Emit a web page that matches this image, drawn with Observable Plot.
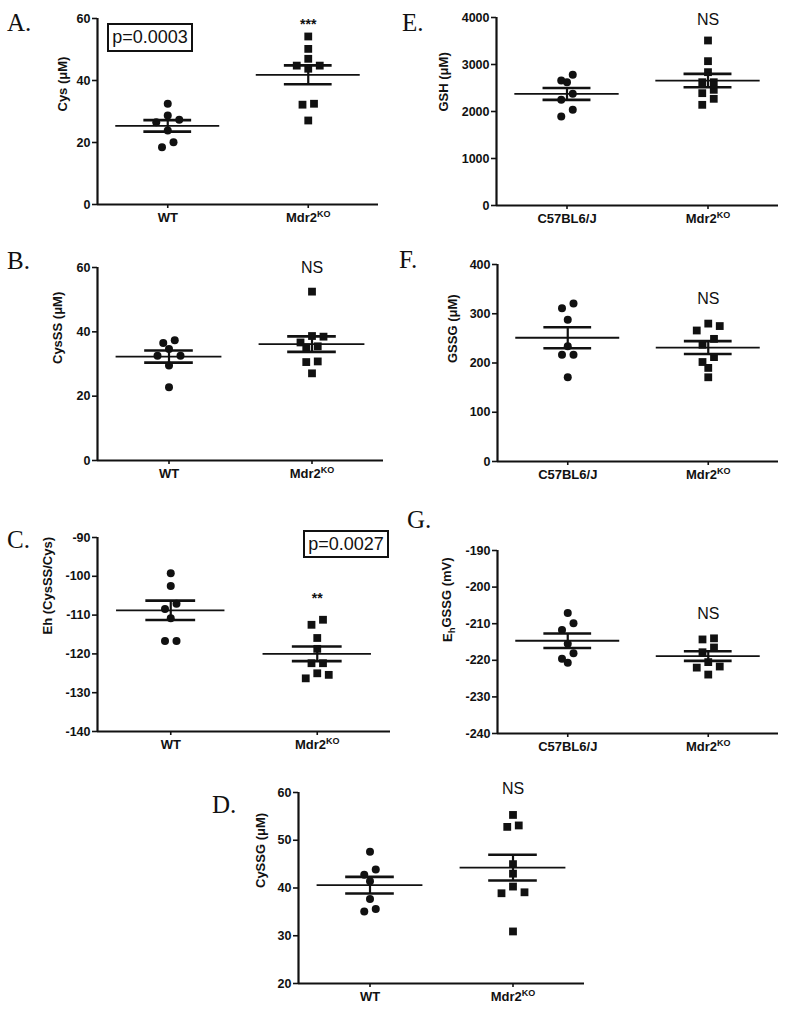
<!DOCTYPE html>
<html><head><meta charset="utf-8">
<script src="https://cdn.jsdelivr.net/npm/d3@7"></script>
<script src="https://cdn.jsdelivr.net/npm/@observablehq/plot@0.6"></script>
<style>
body{margin:0;background:#fff;}
#fig{position:relative;width:800px;height:1012px;background:#fff;overflow:hidden;font-family:"Liberation Sans",Arial,sans-serif;color:#111;}
.lab{position:absolute;font-family:"Liberation Serif","Times New Roman",serif;font-size:25px;line-height:1;color:#111;}
.pbox{position:absolute;border:2px solid #111;font-size:18px;display:flex;align-items:center;justify-content:center;box-sizing:border-box;background:#fff;}
.panel{position:absolute;}
</style></head><body><div id="fig"></div>
<script>
// ---- data ----
const groupsWT = ["WT", "Mdr2KO"];
const groupsC57 = ["C57BL6/J", "Mdr2KO"];

const cysWT = [32.5, 28.7, 27.3, 26.5, 23.9, 20.1, 18.5];
const cysKO = [54.2, 50.2, 47.0, 44.8, 44.8, 43.8, 32.5, 32.2, 27.1];
const cysssWT = [37.4, 36.5, 34.7, 32.6, 32.6, 29.5, 22.8];
const cysssKO = [52.5, 38.7, 38.5, 36.7, 35.5, 35.2, 30.8, 30.6, 27.1];
const ehCysWT = [-99.2, -102.5, -107.1, -108.4, -110.8, -116.7, -116.7];
const ehCysKO = [-111.2, -112.5, -115.9, -118.7, -122.4, -122.4, -125.0, -125.4, -126.3];
const cyssgWT = [47.6, 43.9, 42.8, 41.4, 37.7, 35.6, 35.1];
const cyssgKO = [55.3, 53.1, 52.8, 45.0, 43.0, 40.3, 39.1, 38.9, 30.9];
const gshWT = [2780, 2660, 2623, 2376, 2250, 2035, 1894];
const gshKO = [3511, 3071, 2837, 2623, 2623, 2461, 2390, 2270, 2142];
const gssgWT = [321, 311, 288, 234, 217, 217, 171];
const gssgKO = [280, 275, 266, 249, 237, 212, 202, 190, 171];
const ehGssgWT = [-207.1, -209.9, -211.7, -215.5, -218.1, -219.6, -220.7];
const ehGssgKO = [-214.0, -214.3, -216.5, -217.8, -220.5, -221.7, -222.0, -223.9];

const ticksCys = [0, 20, 40, 60];
const ticksEhCys = [-140, -130, -120, -110, -100, -90];
const ticksCyssg = [20, 30, 40, 50, 60];
const ticksGsh = [0, 1000, 2000, 3000, 4000];
const ticksGssg = [0, 100, 200, 300, 400];
const ticksEhGssg = [-240, -230, -220, -210, -200, -190];

// ---- layout ----
const panels = [
  {letter:"A.", lab:[7,10], groups:groupsWT, wt:cysWT, ko:cysKO, yDomain:[0,60], yTicks:ticksCys, yLabel:"Cys (μM)", frame:[97,378,18,204], svg:[0,0,400,235], labelDx:-35, sig:"***", sigY:57.9, sigSize:14, pbox:{text:"p=0.0003", box:[107,23,86,29]}},
  {letter:"B.", lab:[7,248], groups:groupsWT, wt:cysssWT, ko:cysssKO, yDomain:[0,60], yTicks:ticksCys, yLabel:"CysSS (μM)", frame:[97,383,267,460], svg:[0,235,400,255], labelDx:-40, sig:"NS", sigY:60, sigSize:16},
  {letter:"C.", lab:[7,527], groups:groupsWT, wt:ehCysWT, ko:ehCysKO, yDomain:[-140,-90], yTicks:ticksEhCys, yLabel:"Eh (CysSS/Cys)", frame:[97,390,537,731], svg:[0,490,400,270], labelDx:-50, sig:"**", sigY:-105.6, sigSize:14, pbox:{text:"p=0.0027", box:[303,530,86,28]}},
  {letter:"D.", lab:[212,792], groups:groupsWT, wt:cyssgWT, ko:cyssgKO, yDomain:[20,60], yTicks:ticksCyssg, yLabel:"CySSG (μM)", frame:[298,584,792,983], svg:[160,760,440,252], labelDx:-38, sig:"NS", sigY:60.7, sigSize:16},
  {letter:"E.", lab:[402,10], groups:groupsC57, wt:gshWT, ko:gshKO, yDomain:[0,4000], yTicks:ticksGsh, yLabel:"GSH (μM)", frame:[496,778,17,205], svg:[400,0,400,235], labelDx:-53, sig:"NS", sigY:3957, sigSize:16},
  {letter:"F.", lab:[399,247], groups:groupsC57, wt:gssgWT, ko:gssgKO, yDomain:[0,400], yTicks:ticksGssg, yLabel:"GSSG (μM)", frame:[497,778,264,461], svg:[400,235,400,255], labelDx:-45, sig:"NS", sigY:331, sigSize:16},
  {letter:"G.", lab:[407,507], groups:groupsC57, wt:ehGssgWT, ko:ehGssgKO, yDomain:[-240,-190], yTicks:ticksEhGssg, yLabel:"EhGSSG (mV)", frame:[497,778,550,733], svg:[400,490,400,270], labelDx:-50, sig:"NS", sigY:-207.2, sigSize:16}
];

// GraphPad-like horizontal spreading of points that share a row
function rowSpread(vals, yPx, Dy, S) {
  const offs = new Array(vals.length).fill(0);
  const idx = vals.map((v, i) => i).sort((a, b) => vals[b] - vals[a]);
  const rows = []; let cur = null;
  for (const i of idx) {
    const py = yPx(vals[i]);
    if (cur && py - cur.y0 < Dy) cur.items.push(i);
    else { cur = {y0: py, items: [i]}; rows.push(cur); }
  }
  for (const r of rows) {
    const n = r.items.length, slots = [];
    if (n % 2) { slots.push(0); for (let k = 1; slots.length < n; k++) slots.push(k * S, -k * S); }
    else { for (let k = 0; slots.length < n; k++) slots.push((k + 0.5) * S, -(k + 0.5) * S); }
    r.items.forEach((i, j) => offs[i] = slots[j]);
  }
  return offs;
}

const fig = document.getElementById("fig");
const INK = "#111";

for (const p of panels) {
  const [fx0, fx1, fy0, fy1] = p.frame;
  const [sl, st, sw, sh] = p.svg;
  const fw = fx1 - fx0, fh = fy1 - fy0;
  const pxPerX = fw / 2;
  const yPx = v => (p.yDomain[1] - v) / (p.yDomain[1] - p.yDomain[0]) * fh;
  const pts = [];
  [p.wt, p.ko].forEach((vals, gi) => {
    const offs = rowSpread(vals, yPx, 7, 11.5);
    vals.forEach((v, i) => pts.push({g: gi, v, x: gi + offs[i] / pxPerX}));
  });
  const stats = [p.wt, p.ko].map((vals, gi) => {
    const m = d3.mean(vals), se = d3.deviation(vals) / Math.sqrt(vals.length);
    return {g: gi, m, lo: m - se, hi: m + se};
  });
  const svg = Plot.plot({
    width: sw, height: sh,
    marginLeft: fx0 - sl, marginRight: sl + sw - fx1,
    marginTop: fy0 - st, marginBottom: st + sh - fy1,
    style: {background: "none", color: INK, fontFamily: '"Liberation Sans", Arial, sans-serif', fontWeight: "bold", overflow: "visible"},
    x: {domain: [-0.5, 1.5]},
    y: {domain: p.yDomain},
    marks: [
      Plot.axisY({ticks: p.yTicks, tickFormat: d => String(d), tickSize: 5, tickPadding: 2, fontSize: 12.5, fontWeight: "bold", label: null, strokeWidth: 1.6}),
      Plot.axisX({ticks: [0, 1], tickFormat: i => p.groups[i], tickSize: 4, tickPadding: 4, fontSize: 13, fontWeight: "bold", label: null, strokeWidth: 1.6}),
      Plot.ruleX([-0.5], {stroke: INK, strokeWidth: 2.2}),
      Plot.ruleY([p.yDomain[0]], {stroke: INK, strokeWidth: 2.2}),
      Plot.dot(pts.filter(d => d.g === 0), {x: "x", y: "v", r: 4, symbol: "circle", fill: INK, stroke: "none"}),
      Plot.dot(pts.filter(d => d.g === 1), {x: "x", y: "v", r: 4.4, symbol: "square", fill: INK, stroke: "none"}),
      Plot.ruleY(stats, {x1: d => d.g - 0.37, x2: d => d.g + 0.37, y: "m", stroke: INK, strokeWidth: 1.8}),
      Plot.ruleY(stats, {x1: d => d.g - 0.17, x2: d => d.g + 0.17, y: "lo", stroke: INK, strokeWidth: 2.6}),
      Plot.ruleY(stats, {x1: d => d.g - 0.17, x2: d => d.g + 0.17, y: "hi", stroke: INK, strokeWidth: 2.6}),
      Plot.ruleX(stats, {x: "g", y1: "lo", y2: "hi", stroke: INK, strokeWidth: 2.2}),
      Plot.text([{x: 1, y: p.sigY, t: p.sig}], {x: "x", y: "y", text: "t", fontSize: p.sigSize, fontWeight: p.sig === "NS" ? "normal" : "bold", fill: INK, lineAnchor: "middle"}),
      Plot.text([p.yLabel], {text: d => d, frameAnchor: "left", rotate: -90, dx: p.labelDx, fontSize: 13, fontWeight: "bold", fill: INK})
    ]
  });
  svg.classList.add("panel");
  svg.style.position = "absolute";
  svg.style.left = sl + "px";
  svg.style.top = st + "px";
  svg.querySelectorAll("text").forEach(t => {
    if (t.textContent === "Mdr2KO") t.innerHTML = 'Mdr2<tspan dy="-0.5em" font-size="9">KO</tspan>';
    else if (t.textContent === "EhGSSG (mV)") t.innerHTML = 'E<tspan dy="0.3em" font-size="9.5">h</tspan><tspan dy="-0.3em">GSSG (mV)</tspan>';
  });
  fig.appendChild(svg);

  const lab = document.createElement("div");
  lab.className = "lab";
  lab.textContent = p.letter;
  lab.style.left = p.lab[0] + "px";
  lab.style.top = p.lab[1] + "px";
  fig.appendChild(lab);

  if (p.pbox) {
    const b = document.createElement("div");
    b.className = "pbox";
    b.textContent = p.pbox.text;
    const [bl, bt, bw, bh] = p.pbox.box;
    Object.assign(b.style, {left: bl + "px", top: bt + "px", width: bw + "px", height: bh + "px"});
    fig.appendChild(b);
  }
}
</script></body></html>
